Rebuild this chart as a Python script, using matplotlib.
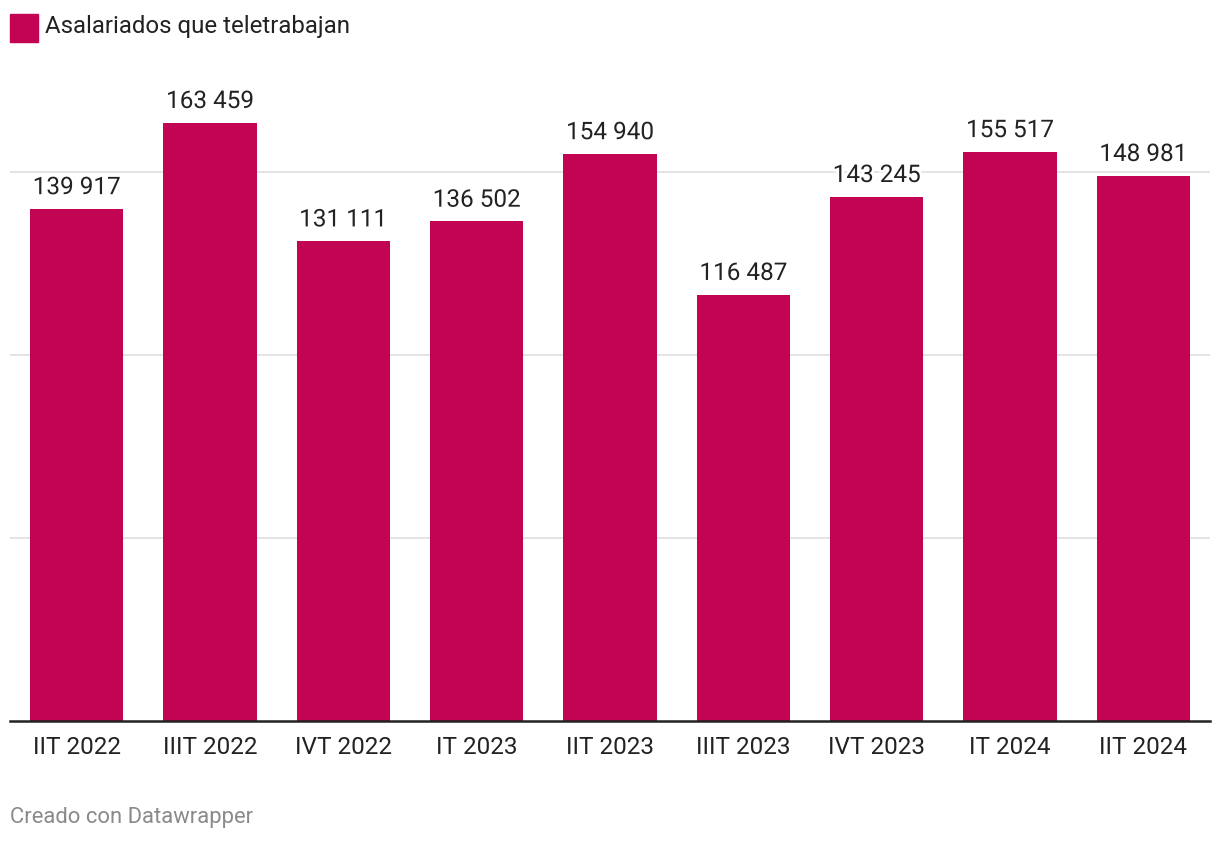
import matplotlib
matplotlib.use("Agg")
import matplotlib.pyplot as plt
import matplotlib.patheffects as pe
from matplotlib.patches import Rectangle

# Datos: asalariados que teletrabajan por trimestre
trimestres = ["IIT 2022", "IIIT 2022", "IVT 2022", "IT 2023", "IIT 2023",
              "IIIT 2023", "IVT 2023", "IT 2024", "IIT 2024"]
teletrabajan = [139917, 163459, 131111, 136502, 154940,
                116487, 143245, 155517, 148981]
etiquetas = ["139 917", "163 459", "131 111", "136 502", "154 940",
             "116 487", "143 245", "155 517", "148 981"]
lineas_guia = [50000, 100000, 150000]

COLOR = "#c20452"
plt.rcParams["font.family"] = ["Roboto", "DejaVu Sans"]

W, H = 1220, 844
fig = plt.figure(figsize=(W / 100, H / 100), dpi=100)
top_px, base_px = 80, 721
ax = fig.add_axes([10 / W, (H - base_px) / H, 1200 / W, (base_px - top_px) / H])

x = range(len(trimestres))
ax.bar(x, teletrabajan, width=0.70, color=COLOR, zorder=2)

for v in lineas_guia:
    ax.axhline(v, color="#e2e2e2", lw=1.3, zorder=1)

for i, (v, t) in enumerate(zip(teletrabajan, etiquetas)):
    ax.annotate(t, (i, v), xytext=(0, 7), textcoords="offset points",
                ha="center", va="bottom", fontsize=17.5, color="#222222",
                zorder=3,
                path_effects=[pe.withStroke(linewidth=4, foreground="white")])

ax.set_xlim(-0.5, len(trimestres) - 0.5)
ax.set_ylim(0, 50000 * (base_px - top_px) / 183.0)
ax.set_xticks(list(x))
ax.set_xticklabels(trimestres, fontsize=17.5, color="#222222")
ax.tick_params(axis="x", length=0, pad=11)
ax.set_yticks([])
for s in ["top", "right", "left"]:
    ax.spines[s].set_visible(False)
ax.spines["bottom"].set_color("#222222")
ax.spines["bottom"].set_linewidth(1.8)
ax.spines["bottom"].set_zorder(4)

# Leyenda
fig.patches.append(Rectangle((10 / W, (H - 42) / H), 28 / W, 28 / H,
                             transform=fig.transFigure, color=COLOR))
fig.text(45 / W, (H - 27) / H, "Asalariados que teletrabajan", fontsize=17.3,
         color="#222222", va="center", ha="left")

# Pie
fig.text(10 / W, (H - 818) / H, "Creado con Datawrapper", fontsize=15.8,
         color="#8a8a8a", va="center", ha="left")

fig.savefig("out.png", dpi=100, facecolor="white")
